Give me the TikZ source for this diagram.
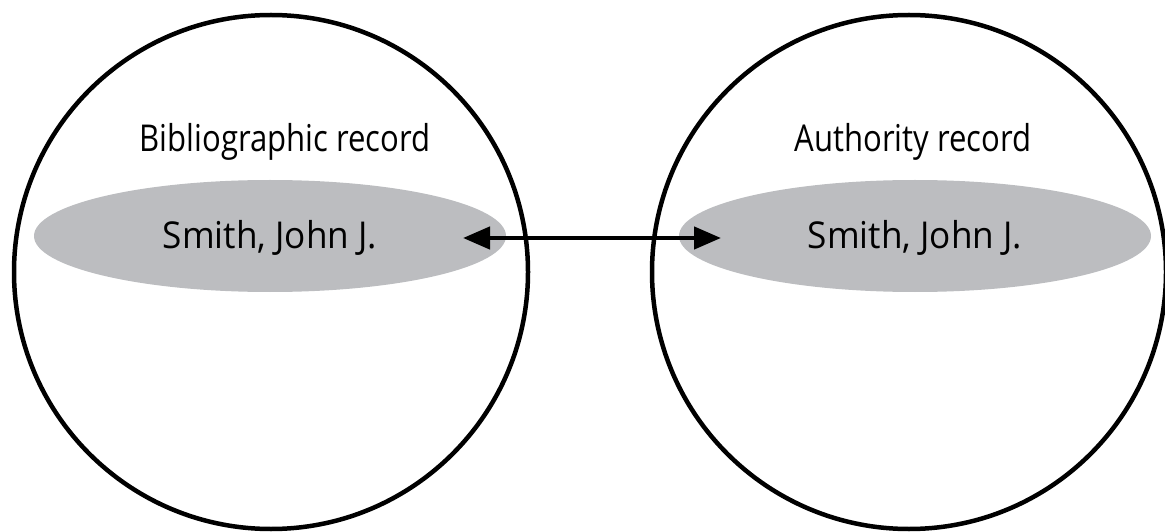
\documentclass[tikz,border=0pt]{standalone}
\usepackage{fontspec}
\setmainfont{Open Sans}
\newfontfamily\headfont[FakeStretch=0.84]{Open Sans}
\newfontfamily\namefont[FakeStretch=0.95]{Open Sans}
\usepackage{tikz}
\usetikzlibrary{shapes.geometric, arrows.meta, positioning}
\definecolor{namegray}{HTML}{BCBDC0}
\tikzstyle{record} = [circle, draw=black, line width=4.5pt, minimum size=514pt, inner sep=0pt]
\tikzstyle{heading} = [anchor=base, font=\headfont\fontsize{37}{44}\selectfont, text=black]
\tikzstyle{namebox} = [ellipse, fill=namegray, minimum width=472pt, minimum height=112pt, inner sep=0pt, text height=24pt, text depth=0pt, font=\namefont\fontsize{37}{44}\selectfont, text=black]
\tikzstyle{link} = [line width=4.5pt, {Triangle[length=27pt, width=22pt]}-{Triangle[length=27pt, width=22pt]}]

\begin{document}
\begin{tikzpicture}[x=1pt, y=1pt]
    \useasboundingbox (0,0) rectangle (1165,531);
    \node[namebox] (bibname) at (270,295) {Smith, John J.};
    \node[namebox] (authname) at (915,295) {Smith, John J.};
    \node[record] (bib) at (271,259) {};
    \node[record] (auth) at (909,259) {};
    \node[heading] (bibtitle) at (285,379) {Bibliographic record};
    \node[heading] (authtitle) at (913,379) {Authority record};
    \coordinate (bibend) at (463,293);
    \coordinate (authend) at (721,293);

    \draw[link] (bibend) -- (authend);
\end{tikzpicture}
\end{document}
